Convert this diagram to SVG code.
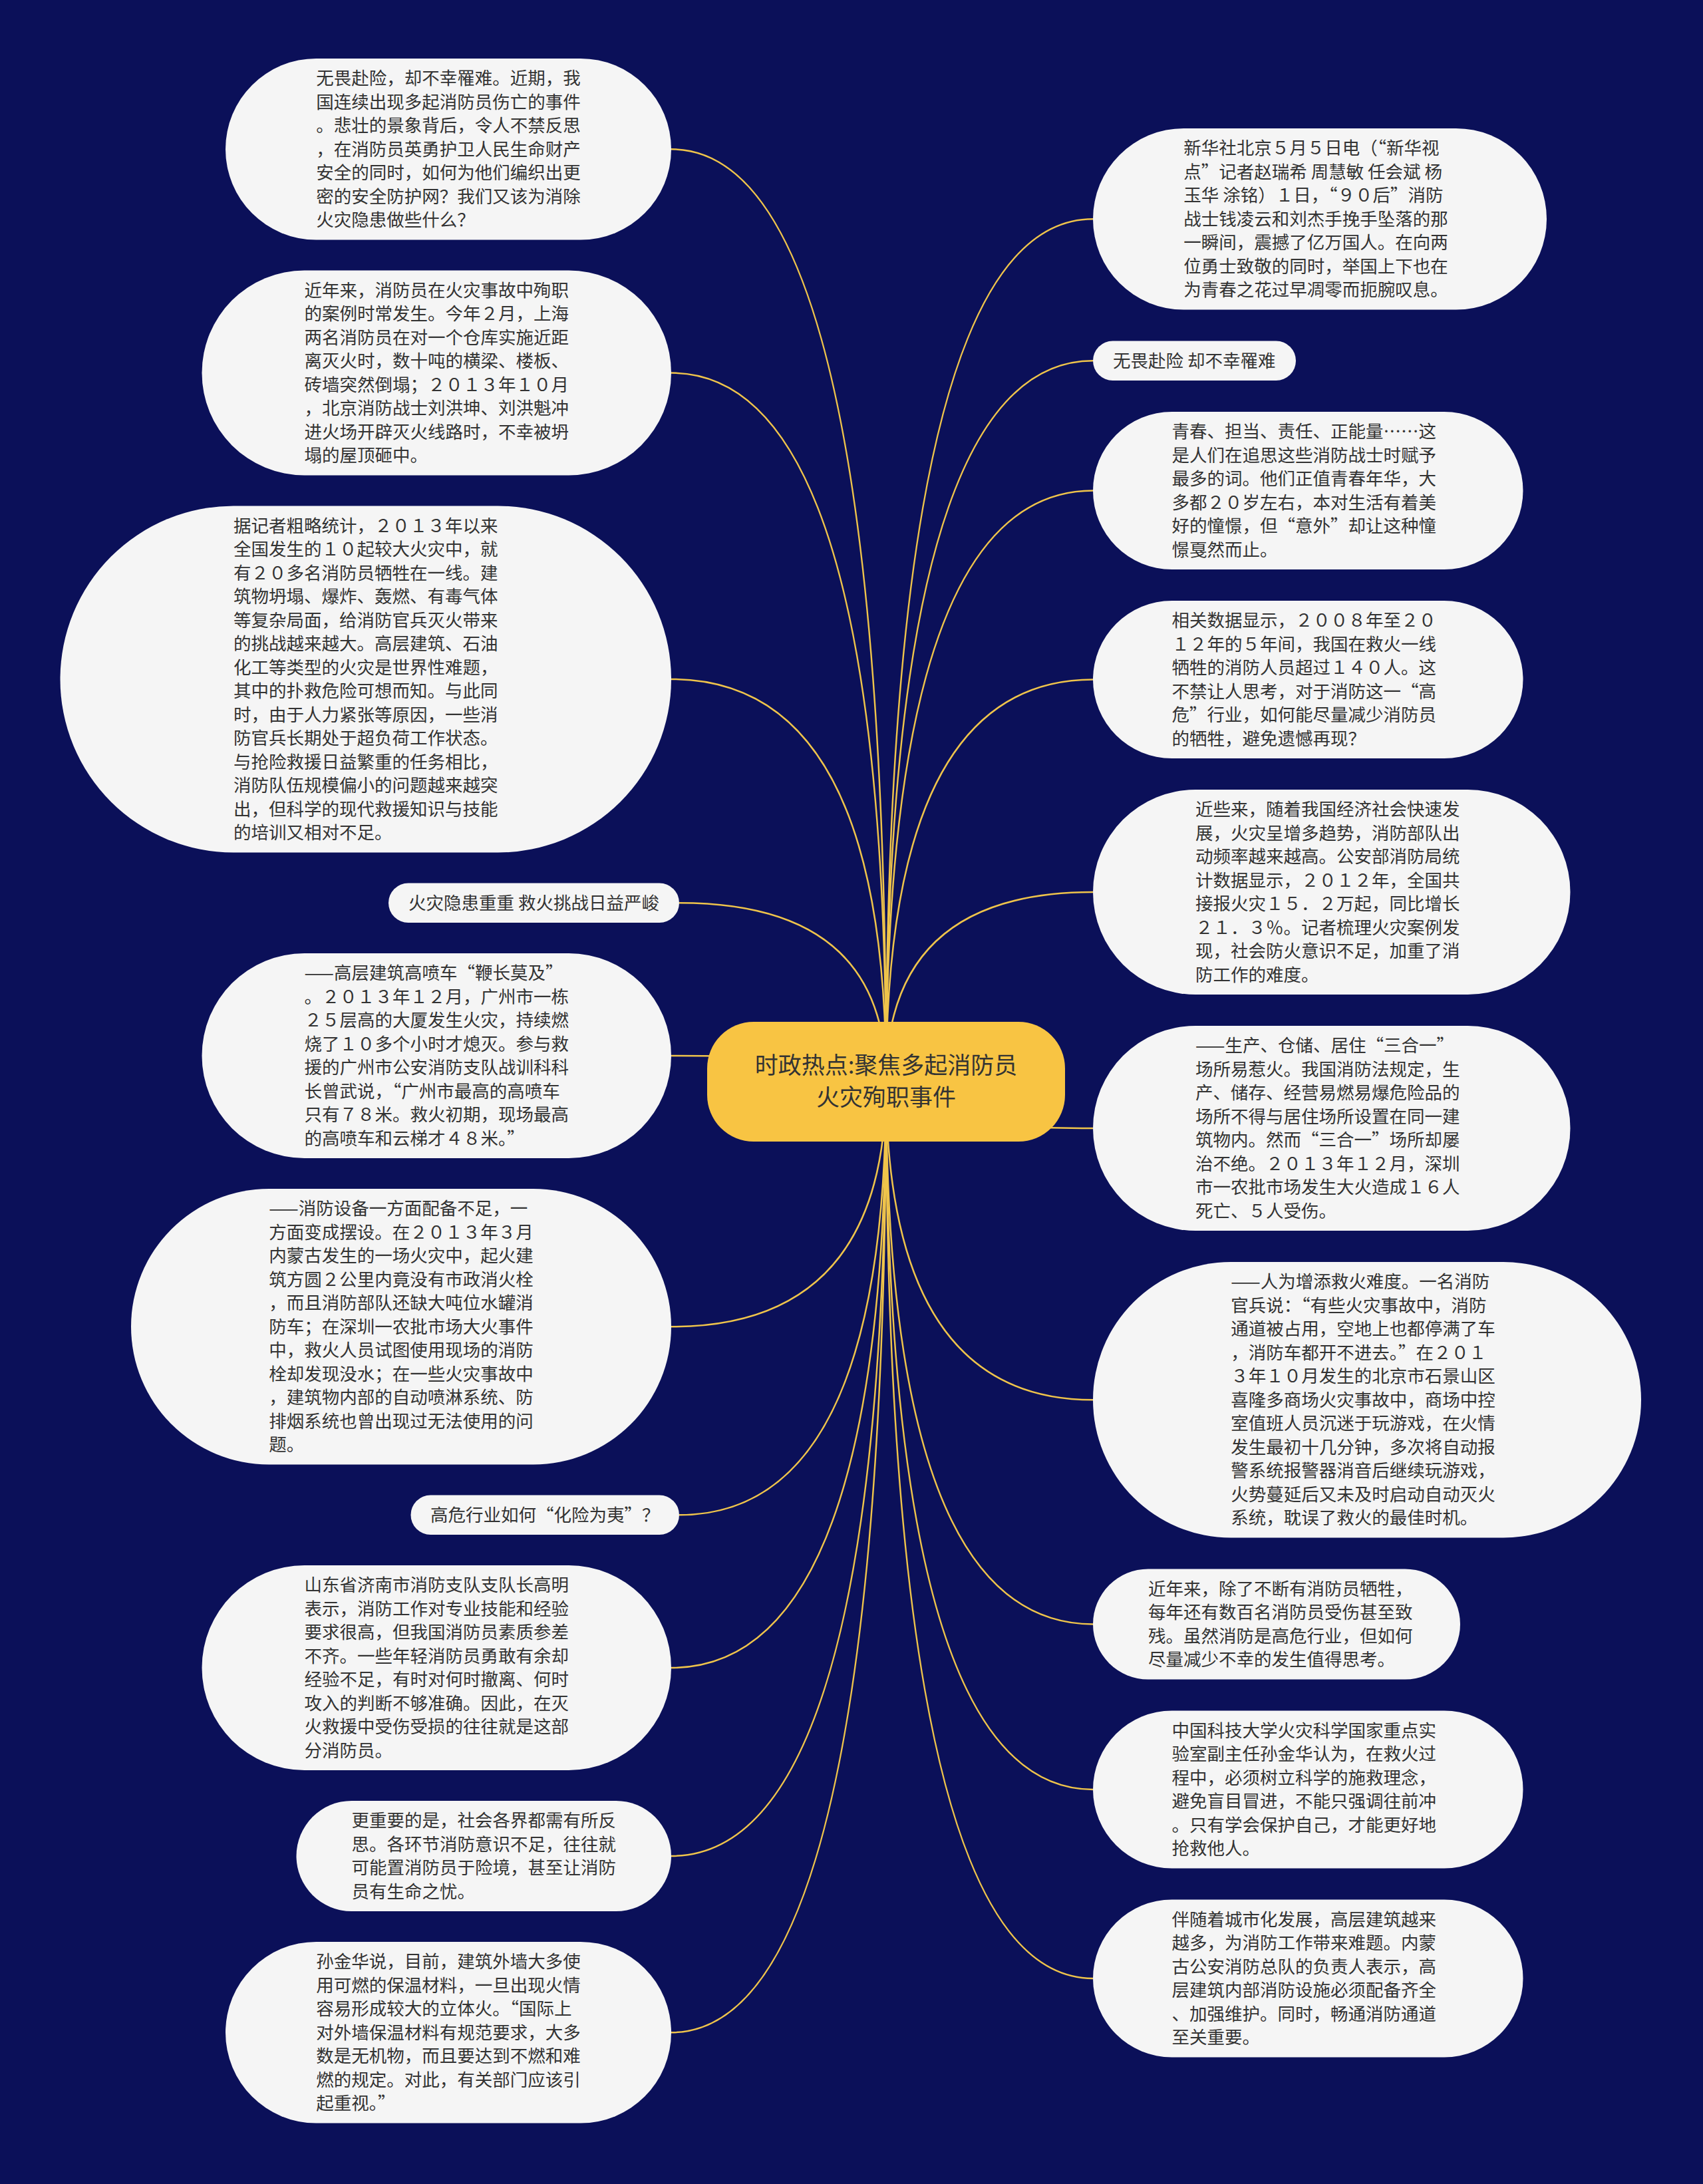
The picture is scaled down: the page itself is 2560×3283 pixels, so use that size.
<svg xmlns="http://www.w3.org/2000/svg" width="2560" height="3283" viewBox="0 0 2560 3283">
<style>
.n{fill:#f5f5f5}
.t{font-family:"Noto Sans CJK SC","Noto Sans CJK JP",sans-serif;font-size:26.5px;fill:#333333}
.q{font-variant-east-asian:full-width;font-feature-settings:"fwid" 1}
.ct{font-family:"Noto Sans CJK SC","Noto Sans CJK JP",sans-serif;font-size:35px;fill:#333333;text-anchor:middle}
.c path{fill:none;stroke:#efc44b;stroke-width:2.5}
</style>
<rect width="2560" height="3283" fill="#0b1059"/>
<g class="c" id="connectors">
<path d="M1332,1626 Q1332,224.25 1009,224.25"/>
<path d="M1332,1626 Q1332,560.5 1009,560.5"/>
<path d="M1332,1626 Q1332,1021 1009,1021"/>
<path d="M1332,1626 Q1332,1357.25 1021,1357.25"/>
<path d="M1332,1626 Q1332,1587 1009,1587"/>
<path d="M1332,1626 Q1332,1994.25 1009,1994.25"/>
<path d="M1332,1626 Q1332,2277.25 1021,2277.25"/>
<path d="M1332,1626 Q1332,2507 1009,2507"/>
<path d="M1332,1626 Q1332,2790 1009,2790"/>
<path d="M1332,1626 Q1332,3055.25 1009,3055.25"/>
<path d="M1332,1626 Q1332,329.25 1643,329.25"/>
<path d="M1332,1626 Q1332,542.25 1643,542.25"/>
<path d="M1332,1626 Q1332,737.5 1643,737.5"/>
<path d="M1332,1626 Q1332,1021.5 1643,1021.5"/>
<path d="M1332,1626 Q1332,1341 1643,1341"/>
<path d="M1332,1626 Q1332,1696 1643,1696"/>
<path d="M1332,1626 Q1332,2104.25 1643,2104.25"/>
<path d="M1332,1626 Q1332,2441.5 1643,2441.5"/>
<path d="M1332,1626 Q1332,2690 1643,2690"/>
<path d="M1332,1626 Q1332,2974 1643,2974"/>
</g>
<g id="center">
<rect x="1063" y="1536" width="538" height="180" rx="70" fill="#f8c443"/>
<text class="ct"><tspan x="1332" y="1614">时政热点:聚焦多起消防员</tspan><tspan x="1332" y="1662">火灾殉职事件</tspan></text>
</g>
<g id="L1">
<rect class="n" x="339" y="88" width="670" height="272.5" rx="136.25"/>
<text class="t"><tspan x="475.25" y="127.25">无畏赴险，却不幸罹难。近期，我</tspan><tspan x="475.25" y="162.75">国连续出现多起消防员伤亡的事件</tspan><tspan x="475.25" y="198.25">。悲壮的景象背后，令人不禁反思</tspan><tspan x="475.25" y="233.75">，在消防员英勇护卫人民生命财产</tspan><tspan x="475.25" y="269.25">安全的同时，如何为他们编织出更</tspan><tspan x="475.25" y="304.75">密的安全防护网？我们又该为消除</tspan><tspan x="475.25" y="340.25">火灾隐患做些什么？</tspan></text>
</g>
<g id="L2">
<rect class="n" x="303.5" y="406.5" width="705.5" height="308" rx="154"/>
<text class="t"><tspan x="457.5" y="445.75">近年来，消防员在火灾事故中殉职</tspan><tspan x="457.5" y="481.25">的案例时常发生。今年２月，上海</tspan><tspan x="457.5" y="516.75">两名消防员在对一个仓库实施近距</tspan><tspan x="457.5" y="552.25">离灭火时，数十吨的横梁、楼板、</tspan><tspan x="457.5" y="587.75">砖墙突然倒塌；２０１３年１０月</tspan><tspan x="457.5" y="623.25">，北京消防战士刘洪坤、刘洪魁冲</tspan><tspan x="457.5" y="658.75">进火场开辟灭火线路时，不幸被坍</tspan><tspan x="457.5" y="694.25">塌的屋顶砸中。</tspan></text>
</g>
<g id="L3">
<rect class="n" x="90.5" y="760.5" width="918.5" height="521" rx="260.5"/>
<text class="t"><tspan x="351" y="799.75">据记者粗略统计，２０１３年以来</tspan><tspan x="351" y="835.25">全国发生的１０起较大火灾中，就</tspan><tspan x="351" y="870.75">有２０多名消防员牺牲在一线。建</tspan><tspan x="351" y="906.25">筑物坍塌、爆炸、轰燃、有毒气体</tspan><tspan x="351" y="941.75">等复杂局面，给消防官兵灭火带来</tspan><tspan x="351" y="977.25">的挑战越来越大。高层建筑、石油</tspan><tspan x="351" y="1012.75">化工等类型的火灾是世界性难题，</tspan><tspan x="351" y="1048.25">其中的扑救危险可想而知。与此同</tspan><tspan x="351" y="1083.75">时，由于人力紧张等原因，一些消</tspan><tspan x="351" y="1119.25">防官兵长期处于超负荷工作状态。</tspan><tspan x="351" y="1154.75">与抢险救援日益繁重的任务相比，</tspan><tspan x="351" y="1190.25">消防队伍规模偏小的问题越来越突</tspan><tspan x="351" y="1225.75">出，但科学的现代救援知识与技能</tspan><tspan x="351" y="1261.25">的培训又相对不足。</tspan></text>
</g>
<g id="L4">
<rect class="n" x="584" y="1327.5" width="437" height="59.5" rx="29.75"/>
<text class="t"><tspan x="614" y="1366.75">火灾隐患重重 救火挑战日益严峻</tspan></text>
</g>
<g id="L5">
<rect class="n" x="303.5" y="1433" width="705.5" height="308" rx="154"/>
<text class="t"><tspan x="457.5" y="1472.25">——高层建筑高喷车<tspan class="q">“</tspan>鞭长莫及<tspan class="q">”</tspan></tspan><tspan x="457.5" y="1507.75">。２０１３年１２月，广州市一栋</tspan><tspan x="457.5" y="1543.25">２５层高的大厦发生火灾，持续燃</tspan><tspan x="457.5" y="1578.75">烧了１０多个小时才熄灭。参与救</tspan><tspan x="457.5" y="1614.25">援的广州市公安消防支队战训科科</tspan><tspan x="457.5" y="1649.75">长曾武说，<tspan class="q">“</tspan>广州市最高的高喷车</tspan><tspan x="457.5" y="1685.25">只有７８米。救火初期，现场最高</tspan><tspan x="457.5" y="1720.75">的高喷车和云梯才４８米。<tspan class="q">”</tspan></tspan></text>
</g>
<g id="L6">
<rect class="n" x="197" y="1787" width="812" height="414.5" rx="207.25"/>
<text class="t"><tspan x="404.25" y="1826.25">——消防设备一方面配备不足，一</tspan><tspan x="404.25" y="1861.75">方面变成摆设。在２０１３年３月</tspan><tspan x="404.25" y="1897.25">内蒙古发生的一场火灾中，起火建</tspan><tspan x="404.25" y="1932.75">筑方圆２公里内竟没有市政消火栓</tspan><tspan x="404.25" y="1968.25">，而且消防部队还缺大吨位水罐消</tspan><tspan x="404.25" y="2003.75">防车；在深圳一农批市场大火事件</tspan><tspan x="404.25" y="2039.25">中，救火人员试图使用现场的消防</tspan><tspan x="404.25" y="2074.75">栓却发现没水；在一些火灾事故中</tspan><tspan x="404.25" y="2110.25">，建筑物内部的自动喷淋系统、防</tspan><tspan x="404.25" y="2145.75">排烟系统也曾出现过无法使用的问</tspan><tspan x="404.25" y="2181.25">题。</tspan></text>
</g>
<g id="L7">
<rect class="n" x="617.5" y="2247.5" width="403.5" height="59.5" rx="29.75"/>
<text class="t"><tspan x="647" y="2286.75">高危行业如何<tspan class="q">“</tspan>化险为夷<tspan class="q">”</tspan>？</tspan></text>
</g>
<g id="L8">
<rect class="n" x="303.5" y="2353" width="705.5" height="308" rx="154"/>
<text class="t"><tspan x="457.5" y="2392.25">山东省济南市消防支队支队长高明</tspan><tspan x="457.5" y="2427.75">表示，消防工作对专业技能和经验</tspan><tspan x="457.5" y="2463.25">要求很高，但我国消防员素质参差</tspan><tspan x="457.5" y="2498.75">不齐。一些年轻消防员勇敢有余却</tspan><tspan x="457.5" y="2534.25">经验不足，有时对何时撤离、何时</tspan><tspan x="457.5" y="2569.75">攻入的判断不够准确。因此，在灭</tspan><tspan x="457.5" y="2605.25">火救援中受伤受损的往往就是这部</tspan><tspan x="457.5" y="2640.75">分消防员。</tspan></text>
</g>
<g id="L9">
<rect class="n" x="445.5" y="2707" width="563.5" height="166" rx="83"/>
<text class="t"><tspan x="528.5" y="2746.25">更重要的是，社会各界都需有所反</tspan><tspan x="528.5" y="2781.75">思。各环节消防意识不足，往往就</tspan><tspan x="528.5" y="2817.25">可能置消防员于险境，甚至让消防</tspan><tspan x="528.5" y="2852.75">员有生命之忧。</tspan></text>
</g>
<g id="L10">
<rect class="n" x="339" y="2919" width="670" height="272.5" rx="136.25"/>
<text class="t"><tspan x="475.25" y="2958.25">孙金华说，目前，建筑外墙大多使</tspan><tspan x="475.25" y="2993.75">用可燃的保温材料，一旦出现火情</tspan><tspan x="475.25" y="3029.25">容易形成较大的立体火。<tspan class="q">“</tspan>国际上</tspan><tspan x="475.25" y="3064.75">对外墙保温材料有规范要求，大多</tspan><tspan x="475.25" y="3100.25">数是无机物，而且要达到不燃和难</tspan><tspan x="475.25" y="3135.75">燃的规定。对此，有关部门应该引</tspan><tspan x="475.25" y="3171.25">起重视。<tspan class="q">”</tspan></tspan></text>
</g>
<g id="R1">
<rect class="n" x="1643" y="193" width="682" height="272.5" rx="136.25"/>
<text class="t"><tspan x="1779.25" y="232.25">新华社北京５月５日电（<tspan class="q">“</tspan>新华视</tspan><tspan x="1779.25" y="267.75">点<tspan class="q">”</tspan>记者赵瑞希 周慧敏 任会斌 杨</tspan><tspan x="1779.25" y="303.25">玉华 涂铭）１日，<tspan class="q">“</tspan>９０后<tspan class="q">”</tspan>消防</tspan><tspan x="1779.25" y="338.75">战士钱凌云和刘杰手挽手坠落的那</tspan><tspan x="1779.25" y="374.25">一瞬间，震撼了亿万国人。在向两</tspan><tspan x="1779.25" y="409.75">位勇士致敬的同时，举国上下也在</tspan><tspan x="1779.25" y="445.25">为青春之花过早凋零而扼腕叹息。</tspan></text>
</g>
<g id="R2">
<rect class="n" x="1643" y="512.5" width="305" height="59.5" rx="29.75"/>
<text class="t"><tspan x="1673" y="551.75">无畏赴险 却不幸罹难</tspan></text>
</g>
<g id="R3">
<rect class="n" x="1643" y="619" width="646.5" height="237" rx="118.5"/>
<text class="t"><tspan x="1761.5" y="658.25">青春、担当、责任、正能量……这</tspan><tspan x="1761.5" y="693.75">是人们在追思这些消防战士时赋予</tspan><tspan x="1761.5" y="729.25">最多的词。他们正值青春年华，大</tspan><tspan x="1761.5" y="764.75">多都２０岁左右，本对生活有着美</tspan><tspan x="1761.5" y="800.25">好的憧憬，但<tspan class="q">“</tspan>意外<tspan class="q">”</tspan>却让这种憧</tspan><tspan x="1761.5" y="835.75">憬戛然而止。</tspan></text>
</g>
<g id="R4">
<rect class="n" x="1643" y="903" width="646.5" height="237" rx="118.5"/>
<text class="t"><tspan x="1761.5" y="942.25">相关数据显示，２００８年至２０</tspan><tspan x="1761.5" y="977.75">１２年的５年间，我国在救火一线</tspan><tspan x="1761.5" y="1013.25">牺牲的消防人员超过１４０人。这</tspan><tspan x="1761.5" y="1048.75">不禁让人思考，对于消防这一<tspan class="q">“</tspan>高</tspan><tspan x="1761.5" y="1084.25">危<tspan class="q">”</tspan>行业，如何能尽量减少消防员</tspan><tspan x="1761.5" y="1119.75">的牺牲，避免遗憾再现？</tspan></text>
</g>
<g id="R5">
<rect class="n" x="1643" y="1187" width="717.5" height="308" rx="154"/>
<text class="t"><tspan x="1797" y="1226.25">近些来，随着我国经济社会快速发</tspan><tspan x="1797" y="1261.75">展，火灾呈增多趋势，消防部队出</tspan><tspan x="1797" y="1297.25">动频率越来越高。公安部消防局统</tspan><tspan x="1797" y="1332.75">计数据显示，２０１２年，全国共</tspan><tspan x="1797" y="1368.25">接报火灾１５．２万起，同比增长</tspan><tspan x="1797" y="1403.75">２１．３％。记者梳理火灾案例发</tspan><tspan x="1797" y="1439.25">现，社会防火意识不足，加重了消</tspan><tspan x="1797" y="1474.75">防工作的难度。</tspan></text>
</g>
<g id="R6">
<rect class="n" x="1643" y="1542" width="717.5" height="308" rx="154"/>
<text class="t"><tspan x="1797" y="1581.25">——生产、仓储、居住<tspan class="q">“</tspan>三合一<tspan class="q">”</tspan></tspan><tspan x="1797" y="1616.75">场所易惹火。我国消防法规定，生</tspan><tspan x="1797" y="1652.25">产、储存、经营易燃易爆危险品的</tspan><tspan x="1797" y="1687.75">场所不得与居住场所设置在同一建</tspan><tspan x="1797" y="1723.25">筑物内。然而<tspan class="q">“</tspan>三合一<tspan class="q">”</tspan>场所却屡</tspan><tspan x="1797" y="1758.75">治不绝。２０１３年１２月，深圳</tspan><tspan x="1797" y="1794.25">市一农批市场发生大火造成１６人</tspan><tspan x="1797" y="1829.75">死亡、５人受伤。</tspan></text>
</g>
<g id="R7">
<rect class="n" x="1643" y="1897" width="824" height="414.5" rx="207.25"/>
<text class="t"><tspan x="1850.25" y="1936.25">——人为增添救火难度。一名消防</tspan><tspan x="1850.25" y="1971.75">官兵说：<tspan class="q">“</tspan>有些火灾事故中，消防</tspan><tspan x="1850.25" y="2007.25">通道被占用，空地上也都停满了车</tspan><tspan x="1850.25" y="2042.75">，消防车都开不进去。<tspan class="q">”</tspan>在２０１</tspan><tspan x="1850.25" y="2078.25">３年１０月发生的北京市石景山区</tspan><tspan x="1850.25" y="2113.75">喜隆多商场火灾事故中，商场中控</tspan><tspan x="1850.25" y="2149.25">室值班人员沉迷于玩游戏，在火情</tspan><tspan x="1850.25" y="2184.75">发生最初十几分钟，多次将自动报</tspan><tspan x="1850.25" y="2220.25">警系统报警器消音后继续玩游戏，</tspan><tspan x="1850.25" y="2255.75">火势蔓延后又未及时启动自动灭火</tspan><tspan x="1850.25" y="2291.25">系统，耽误了救火的最佳时机。</tspan></text>
</g>
<g id="R8">
<rect class="n" x="1643" y="2358.5" width="552" height="166" rx="83"/>
<text class="t"><tspan x="1726" y="2397.75">近年来，除了不断有消防员牺牲，</tspan><tspan x="1726" y="2433.25">每年还有数百名消防员受伤甚至致</tspan><tspan x="1726" y="2468.75">残。虽然消防是高危行业，但如何</tspan><tspan x="1726" y="2504.25">尽量减少不幸的发生值得思考。</tspan></text>
</g>
<g id="R9">
<rect class="n" x="1643" y="2571.5" width="646.5" height="237" rx="118.5"/>
<text class="t"><tspan x="1761.5" y="2610.75">中国科技大学火灾科学国家重点实</tspan><tspan x="1761.5" y="2646.25">验室副主任孙金华认为，在救火过</tspan><tspan x="1761.5" y="2681.75">程中，必须树立科学的施救理念，</tspan><tspan x="1761.5" y="2717.25">避免盲目冒进，不能只强调往前冲</tspan><tspan x="1761.5" y="2752.75">。只有学会保护自己，才能更好地</tspan><tspan x="1761.5" y="2788.25">抢救他人。</tspan></text>
</g>
<g id="R10">
<rect class="n" x="1643" y="2855.5" width="646.5" height="237" rx="118.5"/>
<text class="t"><tspan x="1761.5" y="2894.75">伴随着城市化发展，高层建筑越来</tspan><tspan x="1761.5" y="2930.25">越多，为消防工作带来难题。内蒙</tspan><tspan x="1761.5" y="2965.75">古公安消防总队的负责人表示，高</tspan><tspan x="1761.5" y="3001.25">层建筑内部消防设施必须配备齐全</tspan><tspan x="1761.5" y="3036.75">、加强维护。同时，畅通消防通道</tspan><tspan x="1761.5" y="3072.25">至关重要。</tspan></text>
</g>
</svg>
